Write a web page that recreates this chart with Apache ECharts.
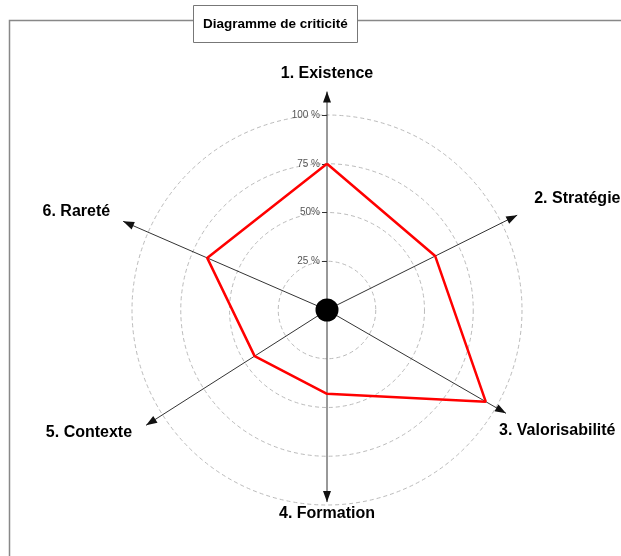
<!DOCTYPE html>
<html>
<head>
<meta charset="utf-8">
<script src="https://cdn.jsdelivr.net/npm/echarts@6/dist/echarts.min.js"></script>
<style>
  html, body { margin: 0; padding: 0; background: #fff; }
  #chart { width: 621px; height: 556px; }
</style>
</head>
<body>
<div id="chart"></div>
<script>
// axes, clockwise from the top
var categories = ['1. Existence', '2. Stratégie', '3. Valorisabilité', '4. Formation', '5. Contexte', '6. Rareté'];
var values = [75, 62, 94, 43, 44, 67];
var tickValues = [25, 50, 75, 100];
var tickLabels = ['25 %', '50%', '75 %', '100 %'];

// layout of the hand drawn axes (degrees, counterclockwise from 3 o'clock) and arrow length in %
var axisAngles = [90, 26.5, -30, -90, 212.5, 156.5];
var arrowLength = [112, 109, 106, 98.5, 110, 114];
var nameAlign = ['center', 'left', 'left', 'center', 'right', 'right'];
var nameOffset = [[0, -18], [17, -17], [-7, 17], [0, 12], [-14, 7], [-13, -10]];

var font = 'Liberation Sans, Arial, sans-serif';
var R = 195;
// triangle with its tip at the centre of the box, so the tip sits on the data point
var arrowPath = 'path://M0 0L4 11L-4 11Z M0 -11L0.01 -11';

// angle axis starts at 12 o'clock and runs counterclockwise
function ang(a) {
  return ((a - 90) % 360 + 360) % 360;
}

var myChart = echarts.init(document.getElementById('chart'));

var polygon = categories.map(function (c, i) {
  return [values[i], ang(axisAngles[i])];
});
polygon.push(polygon[0]);

// arrows live on a second, larger polar (0..125 %) so they are not clipped at 100 %
var arrowSeries = categories.map(function (c, i) {
  return {
    type: 'line',
    coordinateSystem: 'polar',
    polarIndex: 1,
    silent: true,
    showSymbol: true,
    symbolSize: [8, 22],
    lineStyle: { color: '#333', width: 1 },
    itemStyle: { color: '#111' },
    z: 3,
    data: [
      { value: [0, ang(axisAngles[i])], symbol: 'none' },
      { value: [arrowLength[i], ang(axisAngles[i])], symbol: arrowPath, symbolRotate: axisAngles[i] - 90 }
    ]
  };
});

var hiddenAxis = {
  axisLine: { show: false },
  axisTick: { show: false },
  axisLabel: { show: false },
  splitLine: { show: false }
};

var option = {
  backgroundColor: '#fff',
  animation: false,
  title: {
    text: 'Diagramme de criticité',
    left: 193,
    top: 5,
    padding: [12, 10],
    backgroundColor: '#fff',
    borderColor: '#777',
    borderWidth: 1,
    textStyle: { fontSize: 13.5, fontWeight: 'bold', color: '#000', fontFamily: font }
  },
  graphic: [{
    type: 'rect',
    z: -1,
    shape: { x: 9.5, y: 20.5, width: 700, height: 700 },
    style: { fill: null, stroke: '#888', lineWidth: 1.5 }
  }],
  polar: [
    { center: [327, 310], radius: R },
    { center: [327, 310], radius: R * 1.25 }
  ],
  angleAxis: [
    echarts.util.merge({ polarIndex: 0, type: 'value', min: 0, max: 360, startAngle: 90, clockwise: false }, hiddenAxis),
    echarts.util.merge({ polarIndex: 1, type: 'value', min: 0, max: 360, startAngle: 90, clockwise: false }, hiddenAxis)
  ],
  radiusAxis: [{
    polarIndex: 0,
    type: 'value',
    min: 0,
    max: 100,
    interval: 25,
    axisLine: { show: false },
    axisTick: { show: true, length: 5, lineStyle: { color: '#333', width: 1 } },
    axisLabel: {
      show: true,
      margin: 7,
      fontSize: 10,
      fontFamily: font,
      color: '#555',
      formatter: function (v) {
        var j = tickValues.indexOf(v);
        return j >= 0 ? tickLabels[j] : '';
      }
    },
    splitLine: { show: true, lineStyle: { color: '#bbb', type: [4, 3], width: 1 } }
  }, echarts.util.merge({ polarIndex: 1, type: 'value', min: 0, max: 125, interval: 25 }, hiddenAxis)],
  series: arrowSeries.concat([{
    type: 'line',
    coordinateSystem: 'polar',
    polarIndex: 0,
    symbol: 'none',
    lineStyle: { color: '#ff0000', width: 2.5 },
    z: 4,
    data: polygon
  }, {
    type: 'scatter',
    coordinateSystem: 'polar',
    polarIndex: 0,
    symbol: 'circle',
    symbolSize: 23,
    itemStyle: { color: '#000', opacity: 1 },
    z: 5,
    data: [[0, 0]]
  }, {
    type: 'scatter',
    coordinateSystem: 'polar',
    polarIndex: 1,
    clip: false,
    symbolSize: 1,
    itemStyle: { color: 'rgba(0,0,0,0)', opacity: 1 },
    silent: true,
    z: 6,
    label: {
      show: true,
      position: 'inside',
      verticalAlign: 'middle',
      color: '#000',
      opacity: 1,
      fontWeight: 'bold',
      fontSize: 16,
      fontFamily: font,
      formatter: function (p) { return p.name; }
    },
    data: categories.map(function (c, i) {
      return {
        name: c,
        value: [arrowLength[i], ang(axisAngles[i])],
        label: { align: nameAlign[i], offset: nameOffset[i] }
      };
    })
  }])
};

myChart.setOption(option);
</script>
</body>
</html>
